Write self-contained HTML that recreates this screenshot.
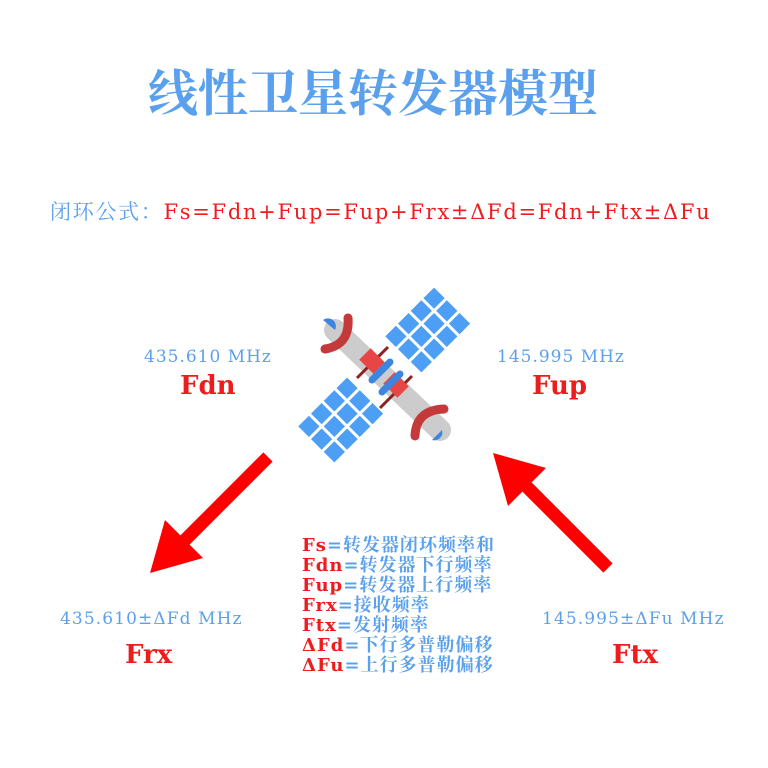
<!DOCTYPE html>
<html><head><meta charset="utf-8"><style>
body{margin:0;width:768px;height:768px;background:#fff;position:relative;overflow:hidden;font-family:"DejaVu Serif","Noto Serif CJK SC",serif}
.a{position:absolute;white-space:nowrap}
.b{color:#5aa0ec}.r{color:#ee1c1c}
</style></head><body>
<div class="a b" style="left:148px;top:60px;font-size:50px;font-weight:bold;font-family:'Noto Serif CJK SC',serif;line-height:60px">线性卫星转发器模型</div>
<div class="a" style="left:50px;top:196px;font-size:21px;letter-spacing:1.7px"><span class="b">闭环公式：</span><span class="r">Fs=Fdn+Fup=Fup+Frx±ΔFd=Fdn+Ftx±ΔFu</span></div>
<div class="a b" style="left:144px;top:347px;font-size:17px;letter-spacing:1px">435.610 MHz</div>
<div class="a r" style="left:180px;top:371px;font-size:26px;font-weight:bold">Fdn</div>
<div class="a b" style="left:497px;top:347px;font-size:17px;letter-spacing:1px">145.995 MHz</div>
<div class="a r" style="left:532px;top:371px;font-size:26px;font-weight:bold">Fup</div>
<div class="a b" style="left:60px;top:609px;font-size:17px;letter-spacing:1.1px">435.610±ΔFd MHz</div>
<div class="a r" style="left:125px;top:640px;font-size:26px;font-weight:bold">Frx</div>
<div class="a b" style="left:542px;top:609px;font-size:17px;letter-spacing:1.1px">145.995±ΔFu MHz</div>
<div class="a r" style="left:612px;top:640px;font-size:26px;font-weight:bold">Ftx</div>
<div class="a" style="left:302px;top:536px;font-size:18px;line-height:20px;font-weight:bold;letter-spacing:1px">
<span class="r">Fs</span><span class="b">=转发器闭环频率和</span><br>
<span class="r">Fdn</span><span class="b">=转发器下行频率</span><br>
<span class="r">Fup</span><span class="b">=转发器上行频率</span><br>
<span class="r">Frx</span><span class="b">=接收频率</span><br>
<span class="r">Ftx</span><span class="b">=发射频率</span><br>
<span class="r">ΔFd</span><span class="b">=下行多普勒偏移</span><br>
<span class="r">ΔFu</span><span class="b">=上行多普勒偏移</span></div>
<svg class="a" style="left:0;top:0" width="768" height="768">
<defs><g id="p"><g fill="#4d9ef5">
<rect x="0" y="0" width="15" height="15"/><rect x="18" y="0" width="15" height="15"/><rect x="36" y="0" width="15" height="15"/><rect x="54" y="0" width="15" height="15"/>
<rect x="0" y="18" width="15" height="15"/><rect x="18" y="18" width="15" height="15"/><rect x="36" y="18" width="15" height="15"/><rect x="54" y="18" width="15" height="15"/>
<rect x="0" y="36" width="15" height="15"/><rect x="18" y="36" width="15" height="15"/><rect x="36" y="36" width="15" height="15"/><rect x="54" y="36" width="15" height="15"/></g></g></defs>
<line x1="268" y1="457" x2="180" y2="545" stroke="#f00" stroke-width="13"/>
<polygon points="150,573 165,520 203,558" fill="#f00"/>
<line x1="608" y1="568" x2="520" y2="480" stroke="#f00" stroke-width="13"/>
<polygon points="493,453 546,468 508,506" fill="#f00"/>
<line x1="335" y1="330" x2="440" y2="430" stroke="#ccc" stroke-width="22" stroke-linecap="round"/>
<g transform="translate(427,330) rotate(-45) translate(-34,-25)"><use href="#p"/></g>
<g transform="translate(340,420) rotate(-45) translate(-34,-25)"><use href="#p"/></g>
<line x1="357" y1="378" x2="388" y2="347" stroke="#8b2323" stroke-width="3"/>
<line x1="380" y1="408" x2="412" y2="376" stroke="#8b2323" stroke-width="3"/>
<rect x="362" y="353" width="20" height="16" fill="#e84545" transform="rotate(45 372 361)"/>
<rect x="386" y="377" width="20" height="16" fill="#e84545" transform="rotate(45 396 385)"/>
<line x1="372" y1="380" x2="390" y2="362" stroke="#3d86e0" stroke-width="7" stroke-linecap="round"/>
<line x1="382" y1="392" x2="400" y2="374" stroke="#3d86e0" stroke-width="7" stroke-linecap="round"/>
<path d="M323 320 a8 8 0 0 1 12 10z" fill="#3d86e0"/>
<path d="M325 349 Q350 345 348 318" stroke="#c43a3a" stroke-width="9" fill="none" stroke-linecap="round"/>
<path d="M442 430 a8 8 0 0 1 -10 10z" fill="#3d86e0"/>
<path d="M444 409 Q416 410 415 436" stroke="#c43a3a" stroke-width="9" fill="none" stroke-linecap="round"/>
</svg>
</body></html>
